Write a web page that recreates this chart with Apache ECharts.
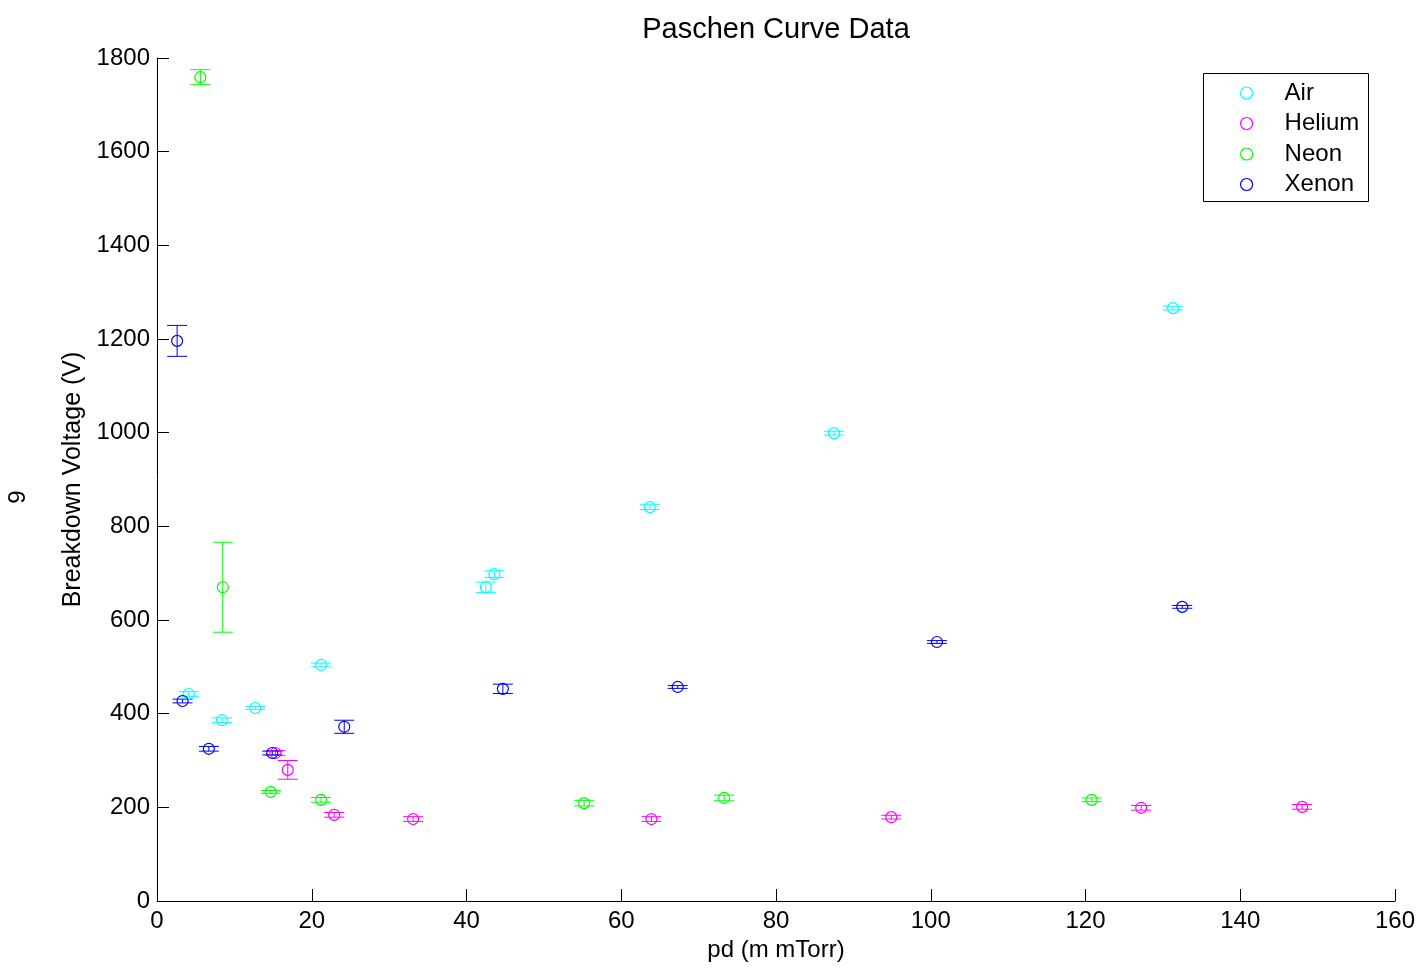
<!DOCTYPE html>
<html>
<head>
<meta charset="utf-8">
<title>Paschen Curve Data</title>
<script src="https://cdn.jsdelivr.net/npm/echarts@6/dist/echarts.min.js"></script>
<style>
  html, body { margin: 0; padding: 0; background: #fff; }
  #chart { width: 1426px; height: 969px; }
</style>
</head>
<body>
<div id="chart"></div>
<script>
// values
const airX = [4.1, 8.4, 12.7, 21.2, 42.5, 43.6, 63.7, 87.5, 131.3]
const airY = [442, 386, 412, 504, 670, 698, 841, 999, 1266]
const airErr = [5, 5, 3, 4, 11, 7, 5, 4, 4]

const heliumX = [15.3, 16.9, 22.9, 33.1, 63.9, 94.9, 127.2, 148.0]
const heliumY = [316, 280, 184, 175, 175, 179, 199, 201]
const heliumErr = [5, 20, 5, 5, 5, 4, 5, 5]

const neonX = [5.6, 8.5, 14.7, 21.2, 55.2, 73.3, 120.8]
const neonY = [1759, 670, 233, 216, 209, 220, 216]
const neonErr = [16, 96, 3, 5, 6, 6, 4]

const xenonX = [2.6, 3.3, 6.7, 14.9, 24.2, 44.7, 67.3, 100.8, 132.5]
const xenonY = [1196, 427, 325, 316, 372, 453, 457, 553, 628]
const xenonErr = [33, 4, 5, 4, 14, 10, 3, 3, 3]

const gases = [
  { name: 'Air', color: '#00ffff', x: airX, y: airY, err: airErr },
  { name: 'Helium', color: '#ff00ff', x: heliumX, y: heliumY, err: heliumErr },
  { name: 'Neon', color: '#00ff00', x: neonX, y: neonY, err: neonErr },
  { name: 'Xenon', color: '#0000ff', x: xenonX, y: xenonY, err: xenonErr },
]

const font = 'Liberation Sans, Arial, sans-serif'

const chart = echarts.init(document.getElementById('chart'))

const series = []
gases.forEach(g => {
  // error bars
  series.push({
    name: g.name + ' err',
    type: 'custom',
    silent: true,
    z: 2,
    data: g.x.map((x, i) => [x, g.y[i], g.err[i]]),
    renderItem: (params, api) => {
      const x = api.value(0)
      const y = api.value(1)
      const e = api.value(2)
      const top = api.coord([x, y + e])
      const bot = api.coord([x, y - e])
      const style = { stroke: g.color, lineWidth: 1 }
      const capHalf = 10
      return {
        type: 'group',
        children: [
          { type: 'line', shape: { x1: top[0], y1: top[1], x2: bot[0], y2: bot[1] }, style },
          { type: 'line', shape: { x1: top[0] - capHalf, y1: top[1], x2: top[0] + capHalf, y2: top[1] }, style },
          { type: 'line', shape: { x1: bot[0] - capHalf, y1: bot[1], x2: bot[0] + capHalf, y2: bot[1] }, style },
        ],
      }
    },
  })
  // open circle markers, thin outline
  series.push({
    name: g.name,
    type: 'scatter',
    z: 3,
    symbol: 'circle',
    symbolSize: 11,
    itemStyle: { color: 'rgba(0,0,0,0)', borderColor: g.color, borderWidth: 1.2, opacity: 1 },
    data: g.x.map((x, i) => [x, g.y[i]]),
  })
})

const option = {
  animation: false,
  backgroundColor: '#fff',
  title: {
    text: 'Paschen Curve Data',
    left: 771,
    textAlign: 'center',
    top: 10,
    textStyle: { fontFamily: font, fontSize: 29, fontWeight: 'normal', color: '#000' },
  },
  legend: {
    orient: 'vertical',
    left: 1240,
    top: 81,
    padding: 0,
    itemWidth: 12,
    itemHeight: 12,
    itemGap: 6.5,
    data: gases.map(g => ({
      name: g.name,
      icon: 'circle',
      itemStyle: { color: 'rgba(0,0,0,0)', borderColor: g.color, borderWidth: 1.2 },
    })),
    textStyle: { fontFamily: font, fontSize: 24, color: '#000', lineHeight: 24, padding: [0, 0, 0, 27] },
  },
  grid: { left: 157, right: 31, top: 58, bottom: 68 },
  xAxis: {
    type: 'value',
    min: 0,
    max: 160,
    interval: 20,
    name: 'pd (m mTorr)',
    nameLocation: 'middle',
    nameGap: 36,
    nameTextStyle: { fontFamily: font, fontSize: 24, color: '#000' },
    axisLine: { show: true, lineStyle: { color: '#000', width: 1 } },
    axisTick: { show: true, inside: true, length: 12, lineStyle: { color: '#000' } },
    axisLabel: { fontFamily: font, fontSize: 24, color: '#000', margin: 8 },
    splitLine: { show: false },
  },
  yAxis: {
    type: 'value',
    min: 0,
    max: 1800,
    interval: 200,
    name: 'Breakdown Voltage (V)',
    nameLocation: 'middle',
    nameRotate: 90,
    nameGap: 70,
    nameTextStyle: { fontFamily: font, fontSize: 25, color: '#000' },
    axisLine: { show: true, lineStyle: { color: '#000', width: 1 } },
    axisTick: { show: true, inside: true, length: 12, lineStyle: { color: '#000' } },
    axisLabel: { fontFamily: font, fontSize: 24, color: '#000', margin: 7, formatter: v => String(v) },
    splitLine: { show: false },
  },
  graphic: [
    {
      type: 'rect',
      shape: { x: 1203.5, y: 73.5, width: 165, height: 128 },
      style: { fill: 'none', stroke: '#000', lineWidth: 1 },
      z: 0,
    },
    {
      type: 'text',
      x: 18,
      y: 497,
      rotation: Math.PI / 2,
      style: { text: '9', fontFamily: font, fontSize: 24, fill: '#000', align: 'center', verticalAlign: 'middle' },
    },
  ],
  series: series,
}

chart.setOption(option)
</script>
</body>
</html>
